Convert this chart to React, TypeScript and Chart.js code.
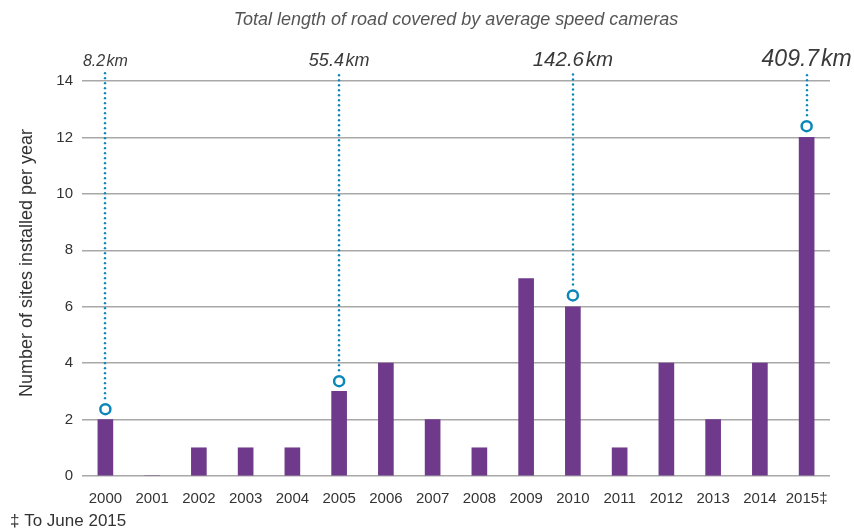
import React, { useEffect, useRef } from "react";
import { Chart, registerables } from "chart.js";

Chart.register(...registerables);

const years = ["2000", "2001", "2002", "2003", "2004", "2005", "2006", "2007", "2008", "2009", "2010", "2011", "2012", "2013", "2014", "2015‡"];
const sitesPerYear = [2, 0, 1, 1, 1, 3, 4, 2, 1, 7, 6, 1, 4, 2, 4, 12];
const markerValues: (number | null)[] = [2.37, null, null, null, null, 3.36, null, null, null, null, 6.4, null, null, null, null, 12.4];
const kmLabels: (string | null)[] = ["8.2\u200Akm", null, null, null, null, "55.4\u200Akm", null, null, null, null, "142.6\u200Akm", null, null, null, null, "409.7\u200Akm"];
const yTickMax = 14;
const yTickStep = 2;
const chartTitle = "Total length of road covered by average speed cameras";
const yAxisTitle = "Number of sites installed per year";
const footnote = "‡ To June 2015";

const FONT = "'Liberation Sans', Arial, sans-serif";
const BLUE = "#0b86b9";

const overlayPlugin = {
  id: "overlay",
  afterDatasetsDraw(chart: any) {
    const ctx = chart.ctx;
    const meta = chart.getDatasetMeta(1);
    const sizes = [16, 18, 20.5, 23];
    let k = 0;
    ctx.save();
    kmLabels.forEach((lab, i) => {
      if (!lab) return;
      const pt = meta.data[i];
      if (!pt) return;
      const x = Math.round(pt.x);
      ctx.fillStyle = BLUE;
      for (let y = pt.y - 11; y >= 71; y -= 5) {
        ctx.beginPath();
        ctx.arc(x, y, 1.2, 0, Math.PI * 2);
        ctx.fill();
      }
      ctx.fillStyle = "#3a3a3a";
      ctx.font = `italic ${sizes[k]}px ${FONT}`;
      ctx.textAlign = "center";
      ctx.textBaseline = "alphabetic";
      ctx.fillText(lab, pt.x, 66);
      k++;
    });
    ctx.fillStyle = "#555";
    ctx.font = `italic 18px ${FONT}`;
    ctx.textAlign = "center";
    ctx.textBaseline = "middle";
    ctx.fillText(chartTitle, 456, 20);
    ctx.save();
    ctx.translate(27, 263);
    ctx.rotate(-Math.PI / 2);
    ctx.fillStyle = "#333";
    ctx.font = `18px ${FONT}`;
    ctx.fillText(yAxisTitle, 0, 0);
    ctx.restore();
    ctx.fillStyle = "#333";
    ctx.font = `17px ${FONT}`;
    ctx.textAlign = "left";
    ctx.textBaseline = "middle";
    ctx.fillText(footnote, 10, 521);
    ctx.restore();
  },
};

export default function App() {
  const ref = useRef<HTMLCanvasElement>(null);
  useEffect(() => {
    document.body.style.margin = "0";
    const chart = new Chart(ref.current as HTMLCanvasElement, {
      type: "bar",
      data: {
        labels: years,
        datasets: [
          {
            type: "bar",
            data: sitesPerYear,
            backgroundColor: "#6f3a8b",
            barThickness: 15,
            order: 2,
          },
          {
            type: "line",
            data: markerValues as any,
            showLine: false,
            pointRadius: 5,
            pointBorderWidth: 2.5,
            pointBackgroundColor: "#fff",
            pointBorderColor: BLUE,
            borderColor: BLUE,
            order: 1,
          } as any,
        ],
      },
      options: {
        animation: false,
        responsive: false,
        layout: { padding: { top: 81, right: 24, left: 0, bottom: 24 } },
        plugins: { legend: { display: false }, tooltip: { enabled: false }, title: { display: false } },
        scales: {
          x: {
            grid: { display: false },
            border: { display: false },
            ticks: { color: "#333", font: { family: FONT, size: 15 }, padding: 6, maxRotation: 0, autoSkip: false },
            afterFit: (s: any) => { s.height = 30; },
          },
          y: {
            min: 0,
            max: yTickMax,
            grid: { color: "#a8a8a8", lineWidth: 1.5, drawTicks: false },
            border: { display: false },
            ticks: { stepSize: yTickStep, color: "#333", font: { family: FONT, size: 15 }, padding: 9 },
            afterFit: (s: any) => { s.width = 82; },
          },
        },
      },
      plugins: [overlayPlugin],
    });
    return () => chart.destroy();
  }, []);
  return (
    <div style={{ width: 854, height: 530 }}>
      <canvas ref={ref} width={854} height={530} />
    </div>
  );
}
